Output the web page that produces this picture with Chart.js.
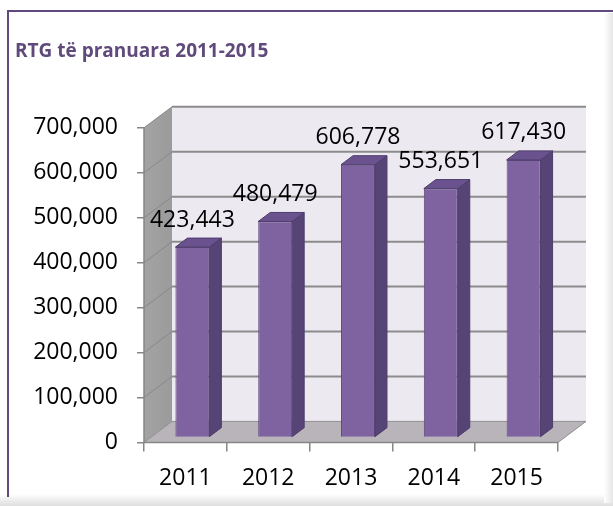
<!DOCTYPE html>
<html>
<head>
<meta charset="utf-8">
<script src="https://cdn.jsdelivr.net/npm/chart.js@4"></script>
<style>
  html, body { margin: 0; padding: 0; background: #fff; }
  #wrap { width: 613px; height: 506px; }
</style>
</head>
<body>
<div id="wrap"><canvas id="rtgChart" width="613" height="506"></canvas></div>
<script>
const years = ['2011', '2012', '2013', '2014', '2015'];
const rtgValues = [423443, 480479, 606778, 553651, 617430];
const yMax = 700000;
const yStep = 100000;

// 3d depth of the walls and of the bars
const DX = 28, DY = 21;
const BX = 7, BY = 5;
const BDX = 12, BDY = 9;

function fmt(v) {
    return v.toLocaleString('en-US');
}

function poly(ctx, pts, fill, stroke) {
    ctx.beginPath();
    ctx.moveTo(pts[0][0], pts[0][1]);
    for (let i = 1; i < pts.length; i++) ctx.lineTo(pts[i][0], pts[i][1]);
    ctx.closePath();
    if (fill) { ctx.fillStyle = fill; ctx.fill(); }
    if (stroke) { ctx.strokeStyle = stroke; ctx.lineWidth = 1; ctx.stroke(); }
}

const frame3d = {
    id: 'frame3d',
    beforeDraw(chart) {
        const ctx = chart.ctx;
        ctx.save();
        ctx.fillStyle = '#fff';
        ctx.fillRect(0, 0, chart.width, chart.height);
        // grey shading at the bottom and right of the picture
        const g = ctx.createLinearGradient(0, 494, 0, 506);
        g.addColorStop(0, '#ffffff');
        g.addColorStop(1, '#dedede');
        ctx.fillStyle = g;
        ctx.fillRect(0, 494, chart.width, 12);
        const g2 = ctx.createLinearGradient(604, 0, 613, 0);
        g2.addColorStop(0, '#ffffff');
        g2.addColorStop(1, '#e6e6e6');
        ctx.fillStyle = g2;
        ctx.fillRect(604, 13, 9, 490);
        // purple frame
        ctx.strokeStyle = '#604a7b';
        ctx.lineWidth = 2;
        ctx.beginPath();
        ctx.moveTo(8, 497);
        ctx.lineTo(8, 11);
        ctx.lineTo(613, 11);
        ctx.stroke();
        ctx.restore();
    },
    beforeDatasetsDraw(chart) {
        const ctx = chart.ctx;
        const a = chart.chartArea;
        const y = chart.scales.y;
        ctx.save();
        // back wall
        poly(ctx, [[a.left + DX, a.top - DY], [a.right + DX, a.top - DY],
                   [a.right + DX, a.bottom - DY], [a.left + DX, a.bottom - DY]], '#ece9f1');
        // left wall
        const lw = ctx.createLinearGradient(a.left, 0, a.left + DX, 0);
        lw.addColorStop(0, '#a3a3a3');
        lw.addColorStop(1, '#9b9b9b');
        poly(ctx, [[a.left, a.top], [a.left + DX, a.top - DY],
                   [a.left + DX, a.bottom - DY], [a.left, a.bottom]], lw);
        // floor
        poly(ctx, [[a.left, a.bottom], [a.left + DX, a.bottom - DY],
                   [a.right + DX, a.bottom - DY], [a.right, a.bottom]], '#b8b4ba');
        // gridlines on the walls
        y.ticks.forEach(t => {
            const py = y.getPixelForValue(t.value);
            if (t.value === 0) return;
            ctx.strokeStyle = '#8c8c8c';
            ctx.lineWidth = 2;
            ctx.beginPath();
            ctx.moveTo(a.left + DX, py - DY);
            ctx.lineTo(a.right + DX, py - DY);
            ctx.stroke();
            ctx.strokeStyle = '#888888';
            ctx.lineWidth = 1;
            ctx.beginPath();
            ctx.moveTo(a.left, py);
            ctx.lineTo(a.left + DX, py - DY);
            ctx.stroke();
        });
        // edges of the floor
        ctx.strokeStyle = '#8f8f8f';
        ctx.lineWidth = 1;
        ctx.beginPath();
        ctx.moveTo(a.left, a.bottom);
        ctx.lineTo(a.left + DX, a.bottom - DY);
        ctx.lineTo(a.right + DX, a.bottom - DY);
        ctx.lineTo(a.right, a.bottom);
        ctx.stroke();
        // axis lines
        ctx.strokeStyle = '#868686';
        ctx.lineWidth = 1.5;
        ctx.beginPath();
        ctx.moveTo(a.left, a.top);
        ctx.lineTo(a.left, a.bottom);
        ctx.lineTo(a.right, a.bottom);
        ctx.stroke();
        ctx.restore();
        // bars stand a little way into the floor
        ctx.save();
        ctx.translate(BX, -BY);
    },
    afterDatasetsDraw(chart) {
        const ctx = chart.ctx;
        ctx.restore();
        ctx.save();
        chart.getDatasetMeta(0).data.forEach((bar, i) => {
            const p = bar.getProps(['x', 'y', 'base', 'width'], true);
            const l = p.x - p.width / 2 + BX, r = p.x + p.width / 2 + BX;
            const t = p.y - BY, b = p.base - BY;
            poly(ctx, [[r, t], [r + BDX, t - BDY], [r + BDX, b - BDY], [r, b]], '#574476', '#4e3d6b');
            poly(ctx, [[l, t], [l + BDX, t - BDY], [r + BDX, t - BDY], [r, t]], '#6a528f', '#4e3d6b');
            ctx.fillStyle = '#000';
            ctx.font = '23px "Open Sans"';
            ctx.textAlign = 'center';
            ctx.textBaseline = 'middle';
            ctx.fillText(fmt(rtgValues[i]), (l + r) / 2, p.y - 32);
        });
        ctx.restore();
    }
};

new Chart(document.getElementById('rtgChart'), {
    type: 'bar',
    data: {
        labels: years,
        datasets: [{
            data: rtgValues,
            backgroundColor: '#7f63a1',
            borderColor: '#5d4a7e',
            borderWidth: 1,
            categoryPercentage: 1,
            barPercentage: 0.41
        }]
    },
    options: {
        responsive: false,
        animation: false,
        devicePixelRatio: 1,
        layout: {
            padding: { left: 15, right: 55, top: 0, bottom: 1 }
        },
        plugins: {
            legend: { display: false },
            tooltip: { enabled: false },
            title: {
                display: true,
                text: 'RTG të pranuara 2011-2015',
                align: 'start',
                color: '#604a7b',
                font: { family: '"Open Sans"', size: 19, weight: 'bold', lineHeight: 1.2 },
                padding: { top: 40, bottom: 65 }
            }
        },
        scales: {
            x: {
                grid: { drawOnChartArea: false, tickLength: 9, color: '#868686', lineWidth: 1.5 },
                border: { display: false },
                ticks: {
                    color: '#000',
                    padding: 13,
                    font: { family: '"Open Sans"', size: 23 }
                }
            },
            y: {
                min: 0,
                max: yMax,
                afterFit(scale) { scale.width = 129; },
                grid: { drawOnChartArea: false, tickLength: 7, color: '#868686', lineWidth: 1.5 },
                border: { display: false },
                ticks: {
                    stepSize: yStep,
                    color: '#000',
                    padding: 19,
                    font: { family: '"Open Sans"', size: 23 },
                    callback: v => fmt(v)
                }
            }
        }
    },
    plugins: [frame3d]
});
</script>
</body>
</html>
